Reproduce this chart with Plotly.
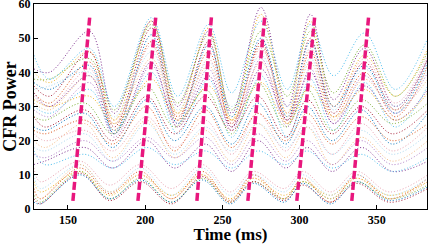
import plotly.graph_objects as go

# Time grids (ms) at extrema for high, mid and low power curves
t_high = [128, 138, 164, 180, 204, 221, 241, 256, 275, 292, 307, 322, 342, 362, 383]
t_mid = [128, 135, 161, 179, 201, 219, 239, 256, 273, 291, 305, 321, 340, 360, 383]
t_low = [128, 132, 158, 177, 197, 217, 237, 255, 270, 290, 302, 320, 337, 358, 383]

high_curves = [
    [41, 40, 52, 28, 55, 30, 52, 28, 59, 30, 57, 32, 47, 30, 44],
    [45, 38, 47, 30, 56, 33, 54, 34, 55, 35, 54, 39, 51.5, 35, 50],
    [40, 37, 46, 26, 55, 28, 53, 26, 57, 28, 55, 30, 45, 33, 47],
    [38, 38, 44, 29, 54, 31, 51, 29, 52, 33, 52, 34, 48, 33, 46],
    [36, 33, 46, 24, 53, 26, 49, 24, 49, 26, 50, 28, 43, 29, 44],
    [37, 35, 42, 22, 51, 25, 48, 27, 50, 27, 49, 30, 42, 28, 43],
    [34, 31, 43, 23, 49, 27, 46, 25, 48, 25, 46, 27, 40, 27, 42],
    [33, 30, 41, 25, 48, 24, 44, 25, 47, 28, 47, 30, 44, 31, 45],
    [35, 36, 40, 27, 46, 29, 43, 30, 45, 30, 44, 29, 41, 30, 41],
    [31, 29, 39, 26, 44, 28, 42, 26, 43, 27, 43, 26, 38, 29, 38],
    [29, 27, 37, 21, 42, 25, 41, 23, 44, 24, 41, 25, 39, 28, 40],
    [34, 30, 39, 22, 43, 24, 39, 24, 41, 26, 40, 25, 36, 26, 35],
    [30, 28, 35, 23, 40, 22, 38, 21, 39, 21, 38, 23, 37, 24, 36],
    [32, 30, 33, 25, 38, 26, 36, 26, 37, 25, 36, 27, 35, 26, 34],
]
mid_curves = [
    [27, 26, 31, 22, 36, 24, 35, 22, 37, 24, 35, 23, 32, 25, 31],
    [27, 24, 29, 20, 33, 22, 33, 23, 33, 21, 32, 22, 30, 22, 29],
    [24, 23, 28, 18, 32, 20, 30, 19, 31, 19, 30, 20, 29, 19, 28],
    [23, 22, 26, 19, 30, 17, 29, 18, 28, 20, 28, 19, 27, 20, 25],
    [22, 20, 23, 17, 27, 18, 26, 16, 28, 17, 26, 16, 25, 17, 24],
    [18, 17, 22, 14, 25, 16, 24, 17, 25, 18, 24, 16, 23, 16, 22],
    [20, 18, 25, 15, 26, 15, 23, 14, 25, 15, 24, 13, 21, 14, 20],
    [16, 15, 20, 14, 21, 15, 21, 13, 22, 14, 20, 13, 20, 13, 18],
    [13, 14, 18, 12, 20, 12, 19, 11, 20, 12, 18, 11, 18, 11, 14],
    [17, 13, 16, 12, 18, 13, 17, 12, 17, 13, 17, 12, 16, 11, 15],
]
low_curves = [
    [8, 5, 11, 4, 10, 4, 10, 3, 9, 4, 8, 4, 9, 4, 8],
    [4, 2, 11, 3, 9, 2, 9, 2, 8, 3, 8, 3, 8, 3, 7],
    [3, 1.5, 10.5, 2.5, 8, 1.5, 9.5, 2, 8, 2.5, 7, 2, 7.5, 2, 6],
    [2, 1.5, 10, 3, 8.5, 2, 8.5, 1.5, 7.5, 2, 7.5, 1.5, 8, 2.5, 6.5],
    [6, 3, 12, 4.5, 11, 3, 11, 2.5, 10, 3, 9, 2, 10, 3, 9],
    [12, 8, 14, 7, 13, 6, 13, 5, 11, 6, 11, 5, 11, 5, 10],
    [10, 6, 13, 5, 12, 4, 12, 4, 10, 5, 10, 4, 10, 4, 9],
    [5, 3, 13, 5, 10, 3, 10, 2, 9, 3, 9, 3, 9, 3, 8],
]

# Peak-latency trend lines (x at bottom and top, y at bottom and top)
trend_x0 = [153.2, 195.3, 233.5, 266.5, 298.2, 333.8]
trend_x1 = [164.2, 207.0, 243.0, 277.5, 309.9, 344.8]
trend_y = [2.4, 56.8]

palette = ["#7E2F8E", "#4DBEEE", "#EDB120", "#77AC30", "#A2142F", "#0072BD",
           "#D95319", "#E8A0B0", "#A9D8F0", "#F2B880", "#B07CC6"]

fig = go.Figure()
i = 0
for grid, group in ((t_high, high_curves), (t_mid, mid_curves), (t_low, low_curves)):
    for vals in group:
        fig.add_trace(go.Scatter(
            x=grid, y=vals, mode="lines",
            line=dict(color=palette[i % len(palette)], width=1, dash="1px,2px",
                      shape="spline", smoothing=1.0),
            showlegend=False, hoverinfo="skip"))
        i += 1

for a, b in zip(trend_x0, trend_x1):
    fig.add_trace(go.Scatter(
        x=[a, b], y=trend_y, mode="lines",
        line=dict(color="#E8177D", width=3.5, dash="8px,3px"),
        showlegend=False, hoverinfo="skip"))

font_fam = "Liberation Serif, Times New Roman, serif"
fig.update_layout(
    width=428, height=244,
    margin=dict(l=34, r=1, t=4, b=35),
    plot_bgcolor="white", paper_bgcolor="white",
    xaxis=dict(range=[128, 382.5], tickvals=[150, 200, 250, 300, 350],
               automargin=False,
               showgrid=False, zeroline=False, showline=True, linecolor="black",
               linewidth=1, mirror=True, ticks="inside", ticklen=4, tickcolor="black",
               tickfont=dict(family=font_fam, size=12, color="black", weight="bold"),
               title=dict(text="Time (ms)", standoff=1,
                          font=dict(family=font_fam, size=17, color="black", weight="bold"))),
    yaxis=dict(range=[0, 60.0], tickvals=[0, 10, 20, 30, 40, 50, 60],
               automargin=False, ticklabeloverflow="allow",
               showgrid=False, zeroline=False, showline=True, linecolor="black",
               linewidth=1, mirror=True, ticks="inside", ticklen=4, tickcolor="black",
               tickfont=dict(family=font_fam, size=12, color="black", weight="bold"),
               title=dict(text="CFR Power", standoff=2,
                          font=dict(family=font_fam, size=18, color="black", weight="bold"))),
)
fig.write_html("out.html", config={"displayModeBar": False},
               post_script="document.body.style.margin='0';")
